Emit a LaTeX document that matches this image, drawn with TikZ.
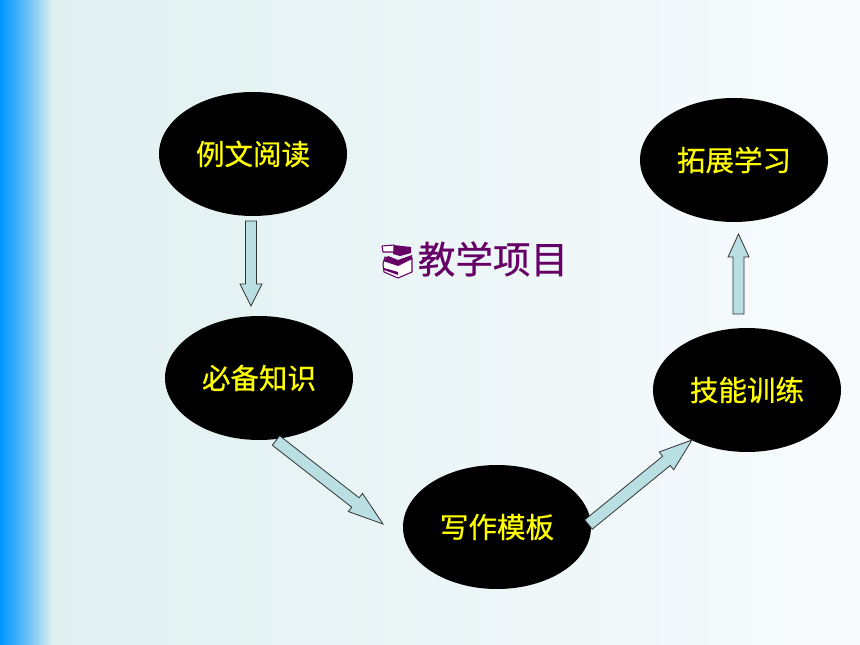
\documentclass[tikz,border=0pt]{standalone}
\usepackage{fontspec}
\newfontfamily\cjk[FakeBold=0.6]{Noto Sans CJK SC}
\usetikzlibrary{shapes.geometric,calc}
\definecolor{bgL}{HTML}{E0F0F0}
\definecolor{bgR}{HTML}{F8FBFE}
\definecolor{bandL}{HTML}{0096FF}
\definecolor{arrowfill}{HTML}{B9DFE3}
\definecolor{titlepurple}{HTML}{660066}
\definecolor{txtyellow}{HTML}{FFFF00}
\newcommand{\up}[1]{\raisebox{1.2pt}{#1}}
\tikzset{
  stage/.style={ellipse,fill=black,minimum width=141pt,minimum height=93pt,inner sep=0pt,
    text=txtyellow,font=\cjk\fontsize{21.4}{24}\selectfont},
  blockarrow/.style={draw=black!80,line width=0.6pt,fill=arrowfill,line join=miter},
  title/.style={text=titlepurple,font=\cjk\fontsize{28.2}{32}\selectfont,inner sep=0pt},
  bookpart/.style={draw=titlepurple,line width=0.8pt,line join=round}
}
% #1 from, #2 to, #3 half shaft width, #4 half head width, #5 head length (px)
\newcommand{\blockarr}[5]{%
  \path let \p1=($(#2)-(#1)$), \n1={atan2(\y1,\x1)} in
    coordinate (ux) at (\n1:0.75pt) coordinate (vx) at (\n1+90:0.75pt);
  \draw[blockarrow]
    ($(#1)+#3*(vx)$) --
    ($(#2)-#5*(ux)+#3*(vx)$) --
    ($(#2)-#5*(ux)+#4*(vx)$) --
    (#2) --
    ($(#2)-#5*(ux)-#4*(vx)$) --
    ($(#2)-#5*(ux)-#3*(vx)$) --
    ($(#1)-#3*(vx)$) -- cycle;
}
\begin{document}
\begin{tikzpicture}[x=0.75pt,y=-0.75pt]
\useasboundingbox (0,0) rectangle (860,645);
\fill[left color=bandL,right color=bgL,middle color=bandL!55!bgL] (0,0) rectangle (53,645);
\fill[left color=bgL,right color=bgR] (53,0) rectangle (860,645);

\node[stage] (a) at (253,154) {\up{例文阅读}};
\node[stage] (b) at (259,378) {\up{必备知识}};
\node[stage] (c) at (497,527) {\up{写作模板}};
\node[stage] (d) at (747,390) {\up{技能训练}};
\node[stage] (e) at (734,160) {\up{拓展学习}};

\coordinate (a1) at (251,221); \coordinate (a2) at (251,306);
\coordinate (b1) at (276,440.5); \coordinate (b2) at (383,524);
\coordinate (c1) at (588.5,524.5); \coordinate (c2) at (692,440);
\coordinate (d1) at (738.5,314); \coordinate (d2) at (738.5,234);
\blockarr{a1}{a2}{5.5}{11}{22}
\blockarr{b1}{b2}{6}{11.5}{35}
\blockarr{c1}{c2}{6}{11.5}{33}
\blockarr{d1}{d2}{5.5}{10.5}{23}

\node[title,anchor=west] (t) at (417.5,259) {教学项目};
% book bullet
\fill[titlepurple] (393,245) -- (411,247) -- (411,253) -- (400,256) -- (393,254) -- cycle;
\draw[bookpart,fill=white] (382,246) -- (394,245) -- (394,252) -- (383,252) -- cycle;
\draw[bookpart,fill=white] (385,257) -- (399,262) -- (412,258) -- (412,272) -- (398,278) -- (384,272) -- (383,264) -- cycle;
\fill[titlepurple] (383,261) -- (388,256) -- (398,260) -- (412,255) -- (412,259) -- (398,266) -- cycle;
\fill[titlepurple] (384,268) -- (398,272) -- (398,275) -- (384,270) -- cycle;
\end{tikzpicture}
\end{document}
